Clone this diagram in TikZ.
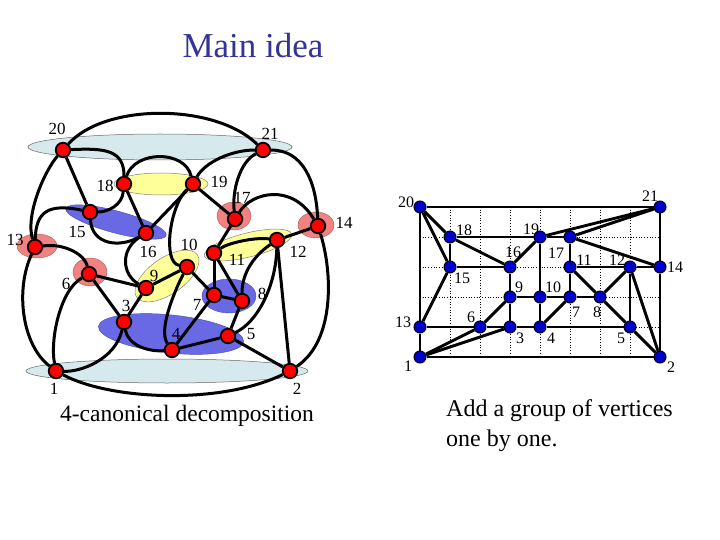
\documentclass[tikz,border=0pt]{standalone}
\usepackage{fontspec}
\setmainfont{Liberation Serif}
\definecolor{lblue}{RGB}{214,234,238}
\definecolor{lyel}{RGB}{255,255,153}
\definecolor{mblue}{RGB}{105,105,230}
\definecolor{lpink}{RGB}{240,130,130}
\definecolor{titleblue}{RGB}{51,51,153}
\definecolor{nodeblue}{RGB}{0,0,204}
\begin{document}
\begin{tikzpicture}[x=1pt,y=-1pt,
  rv/.style={circle,fill=red,draw=black,line width=1.8pt,minimum size=14.5pt,inner sep=0pt},
  bv/.style={circle,fill=nodeblue,draw=black,line width=1pt,minimum size=12pt,inner sep=0pt},
  lab/.style={font=\fontsize{17}{17}\selectfont,inner sep=0pt},
  rlab/.style={font=\fontsize{16}{16}\selectfont,inner sep=0pt},
  le/.style={line width=3pt},
  re/.style={line width=2.9pt},
  dotg/.style={line width=0.7pt,dotted},
  ellA/.style={fill=lblue,draw=black!60,line width=0.5pt},
  ellY/.style={fill=lyel,draw=black!50,line width=0.5pt},
  ellB/.style={fill=mblue,draw=mblue!70!black,line width=0.4pt},
  ellP/.style={fill=lpink,draw=lpink!70!black,line width=0.4pt}]
\useasboundingbox (0,0) rectangle (720,540);
% ---------- title and texts ----------
\node[text=titleblue,font=\fontsize{35}{35}\selectfont,inner sep=0pt] (title) at (253,46) {Main idea};
\node[font=\fontsize{23.5}{23.5}\selectfont,inner sep=0pt] (capl) at (187,416) {4-canonical decomposition};
\node[font=\fontsize{24}{24}\selectfont,inner sep=0pt,anchor=base west] (capr1) at (446,416) {Add a group of vertices};
\node[font=\fontsize{24}{24}\selectfont,inner sep=0pt,anchor=base west] (capr2) at (446,446) {one by one.};
% ---------- left: ellipses ----------
\path[ellA] (160,147) ellipse [x radius=132pt, y radius=13pt];
\path[ellA] (167,371) ellipse [x radius=141pt, y radius=12pt];
\path[ellY] (161,184) ellipse [x radius=47pt, y radius=11pt];
\path[ellB,rotate around={-15:(116,222)}] (116,222) ellipse [x radius=52pt, y radius=11pt];
\path[ellP] (37,246) ellipse [x radius=20pt, y radius=12pt];
\path[ellP] (90,272) ellipse [x radius=17pt, y radius=14pt];
\path[ellP] (234,216) ellipse [x radius=17pt, y radius=14pt];
\path[ellP] (316,225) ellipse [x radius=18pt, y radius=13pt];
\path[ellY,rotate around={35:(167,276)}] (167,276) ellipse [x radius=37pt, y radius=18pt];
\path[ellY,rotate around={14:(248,245)}] (248,245) ellipse [x radius=45pt, y radius=12pt];
\path[ellB] (229,296) ellipse [x radius=27pt, y radius=17pt];
\path[ellB,rotate around={-6:(171,334)}] (171,334) ellipse [x radius=73pt, y radius=19pt];
% ---------- left: nodes ----------
\node[rv] (L20) at (63,150) {};
\node[rv] (L21) at (263,150) {};
\node[rv] (L18) at (124,184) {};
\node[rv] (L19) at (193,184) {};
\node[rv] (L17) at (235,219) {};
\node[rv] (L14) at (318,226) {};
\node[rv] (L15) at (90,212) {};
\node[rv] (L16) at (146,233) {};
\node[rv] (L13) at (35,247) {};
\node[rv] (L12) at (277,240) {};
\node[rv] (L11) at (214,253) {};
\node[rv] (L10) at (187,267) {};
\node[rv] (L9) at (146,288) {};
\node[rv] (L6) at (89,274) {};
\node[rv] (L7) at (214,295) {};
\node[rv] (L8) at (242,301) {};
\node[rv] (L3) at (124,322) {};
\node[rv] (L4) at (172,350) {};
\node[rv] (L5) at (228,336) {};
\node[rv] (L1) at (56,371) {};
\node[rv] (L2) at (290,371) {};
% ---------- left: labels ----------
\node[lab] (l20) at (57,129) {20};
\node[lab] (l21) at (270,134) {21};
\node[lab] (l18) at (105,186) {18};
\node[lab] (l19) at (219,182) {19};
\node[lab] (l17) at (242,198) {17};
\node[lab] (l14) at (344,223) {14};
\node[lab] (l12) at (298,252) {12};
\node[lab] (l15) at (77,232) {15};
\node[lab] (l16) at (148,252) {16};
\node[lab] (l13) at (15,240) {13};
\node[lab] (l10) at (189,245) {10};
\node[lab] (l11) at (237,260) {11};
\node[lab] (l9) at (154,276) {9};
\node[lab] (l6) at (66,284) {6};
\node[lab] (l3) at (126,306) {3};
\node[lab] (l4) at (176,334) {4};
\node[lab] (l7) at (197,305) {7};
\node[lab] (l8) at (262,294) {8};
\node[lab] (l5) at (251,334) {5};
\node[lab] (l1) at (54,389) {1};
\node[lab] (l2) at (297,389) {2};
% ---------- left: edges ----------
\draw[le] (L20) .. controls (105,103) and (215,103) .. (L21);
\draw[le] (L20) .. controls (105,148) and (124,150) .. (L18);
\draw[le] (L20) -- (L15);
\draw[le] (L20) .. controls (45,170) and (25,215) .. (L13);
\draw[le] (L18) .. controls (135,150) and (185,150) .. (L19);
\draw[le] (L15) .. controls (108,212) and (122,205) .. (L18);
\draw[le] (L18) -- (L16);
\draw[le] (L15) .. controls (92,245) and (120,248) .. (L16);
\draw[le] (L13) .. controls (36,212) and (48,203) .. (L15);
\draw[le] (L16) -- (L19);
\draw[le] (L16) .. controls (120,250) and (122,275) .. (L9);
\draw[le] (L19) -- (L17);
\draw[le] (L19) .. controls (205,162) and (232,150) .. (L21);
\draw[le] (L17) .. controls (232,190) and (240,162) .. (L21);
\draw[le] (L17) .. controls (252,192) and (292,183) .. (L14);
\draw[le] (L17) -- (L11);
\draw[le] (L19) .. controls (170,205) and (162,262) .. (L10);
\draw[le] (L11) .. controls (228,243) and (255,237) .. (L12);
\draw[le] (L11) -- (L8);
\draw[le] (L12) .. controls (255,255) and (242,272) .. (L8);
\draw[le] (L11) -- (L7);
\draw[le] (L10) -- (L7);
\draw[le] (L10) -- (L9);
\draw[le] (L10) .. controls (175,290) and (158,330) .. (L4);
\draw[le] (L7) -- (L4);
\draw[le] (L7) -- (L8);
\draw[le] (L8) -- (L5);
\draw[le] (L12) .. controls (276,285) and (258,322) .. (L5);
\draw[le] (L12) -- (L2);
\draw[le] (L12) -- (L14);
\draw[le] (L21) .. controls (302,150) and (316,180) .. (L14);
\draw[le] (L14) .. controls (332,270) and (336,340) .. (L2);
\draw[le] (L5) -- (L2);
\draw[le] (L4) -- (L5);
\draw[le] (L3) .. controls (128,345) and (148,352) .. (L4);
\draw[le] (L9) -- (L3);
\draw[le] (L9) -- (L6);
\draw[le] (L6) -- (L3);
\draw[le] (L13) .. controls (65,243) and (85,255) .. (L6);
\draw[le] (L13) .. controls (15,290) and (22,345) .. (L1);
\draw[le] (L6) .. controls (60,290) and (50,340) .. (L1);
\draw[le] (L3) .. controls (115,360) and (80,372) .. (L1);
\draw[le] (L1) .. controls (110,400) and (220,405) .. (L2);
% ---------- right: dotted grid ----------
\foreach \gx in {450,480,...,630} {\draw[dotg] (\gx,207) -- (\gx,357);}
\foreach \gy in {237,267,...,327} {\draw[dotg] (420,\gy) -- (660,\gy);}
% ---------- right: nodes ----------
\node[bv] (R20) at (420,207) {};
\node[bv] (R21) at (660,207) {};
\node[bv] (R18) at (450,237) {};
\node[bv] (R19) at (540,237) {};
\node[bv] (R17) at (570,237) {};
\node[bv] (R15) at (450,267) {};
\node[bv] (R16) at (510,267) {};
\node[bv] (R11) at (570,267) {};
\node[bv] (R12) at (630,267) {};
\node[bv] (R14) at (660,267) {};
\node[bv] (R9) at (510,297) {};
\node[bv] (R10) at (540,297) {};
\node[bv] (R7) at (570,297) {};
\node[bv] (R8) at (600,297) {};
\node[bv] (R13) at (420,327) {};
\node[bv] (R6) at (480,327) {};
\node[bv] (R3) at (510,327) {};
\node[bv] (R4) at (540,327) {};
\node[bv] (R5) at (630,327) {};
\node[bv] (R1) at (420,357) {};
\node[bv] (R2) at (660,357) {};
% ---------- right: labels ----------
\node[rlab] (r20) at (406,202) {20};
\node[rlab] (r21) at (650,196) {21};
\node[rlab] (r18) at (464,230) {18};
\node[rlab] (r19) at (531,229) {19};
\node[rlab] (r17) at (556,253) {17};
\node[rlab] (r11) at (584,260) {11};
\node[rlab] (r12) at (617,260) {12};
\node[rlab] (r14) at (675,267) {14};
\node[rlab] (r15) at (462,278) {15};
\node[rlab] (r16) at (513,252) {16};
\node[rlab] (r9) at (519,287) {9};
\node[rlab] (r10) at (553,287) {10};
\node[rlab] (r7) at (576,312) {7};
\node[rlab] (r8) at (597,312) {8};
\node[rlab] (r13) at (403,322) {13};
\node[rlab] (r6) at (471,317) {6};
\node[rlab] (r3) at (520,338) {3};
\node[rlab] (r4) at (551,338) {4};
\node[rlab] (r5) at (621,338) {5};
\node[rlab] (r1) at (408,366) {1};
\node[rlab] (r2) at (671,367) {2};
% ---------- right: edges ----------
\draw[re] (R20) -- (R21);
\draw[re] (R20) -- (R13);
\draw[re] (R13) -- (R1);
\draw[re] (R1) -- (R2);
\draw[re] (R21) -- (R14);
\draw[re] (R14) -- (R2);
\draw[re] (R20) -- (R18);
\draw[re] (R20) -- (R15);
\draw[re] (R18) -- (R15);
\draw[re] (R18) -- (R19);
\draw[re] (R18) -- (R16);
\draw[re] (R15) -- (R16);
\draw[re] (R15) -- (R13);
\draw[re] (R16) -- (R19);
\draw[re] (R16) -- (R9);
\draw[re] (R19) -- (R17);
\draw[re] (R19) -- (R21);
\draw[re] (R17) -- (R21);
\draw[re] (R17) -- (R14);
\draw[re] (R17) -- (R11);
\draw[re] (R19) -- (R10);
\draw[re] (R11) -- (R12);
\draw[re] (R12) -- (R14);
\draw[re] (R11) -- (R8);
\draw[re] (R12) -- (R8);
\draw[re] (R11) -- (R7);
\draw[re] (R9) -- (R10);
\draw[re] (R10) -- (R7);
\draw[re] (R7) -- (R8);
\draw[re] (R10) -- (R4);
\draw[re] (R4) -- (R7);
\draw[re] (R8) -- (R5);
\draw[re] (R12) -- (R5);
\draw[re] (R12) -- (R2);
\draw[re] (R5) -- (R2);
\draw[re] (R3) -- (R4);
\draw[re] (R4) -- (R5);
\draw[re] (R13) -- (R6);
\draw[re] (R6) -- (R3);
\draw[re] (R9) -- (R3);
\draw[re] (R9) -- (R6);
\draw[re] (R1) -- (R6);
\draw[re] (R1) -- (R3);
\end{tikzpicture}
\end{document}
